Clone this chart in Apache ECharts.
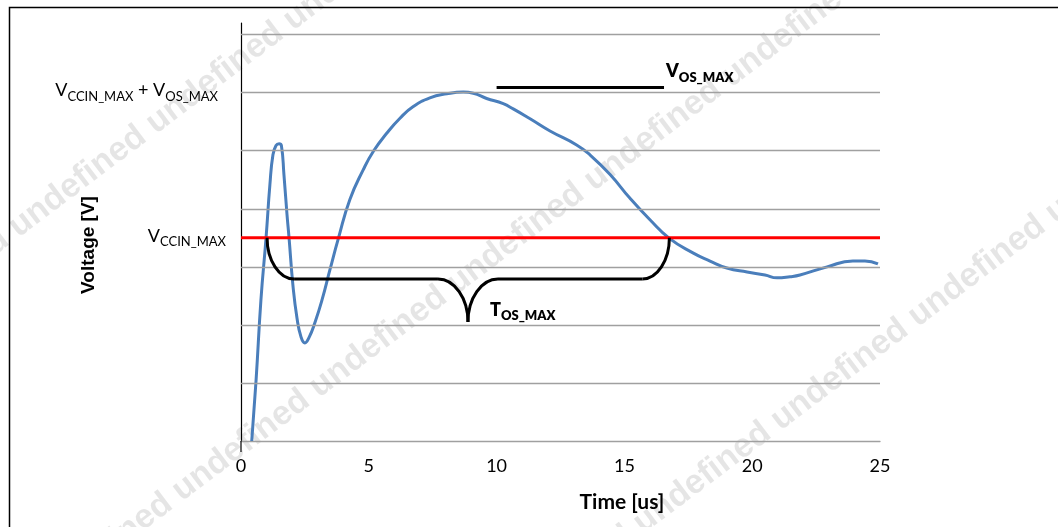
<!DOCTYPE html>
<html>
<head>
<meta charset="utf-8">
<script src="https://cdn.jsdelivr.net/npm/echarts@6/dist/echarts.min.js"></script>
<style>
html,body{margin:0;padding:0;background:#fff;}
#chart{width:1058px;height:527px;}
</style>
</head>
<body>
<div id="chart"></div>
<script>
// ---- data ----
const timeUs = [0.42,0.59,0.78,0.98,1.13,1.25,1.37,1.49,1.58,1.68,1.80,1.88,2.03,2.19,2.35,2.50,2.66,2.90,3.17,3.48,3.81,4.26,4.78,5.18,5.70,6.22,6.74,7.39,8.05,8.70,9.09,9.61,10.26,10.65,11.31,12.09,13.13,13.65,14.44,15.22,16.0,16.76,17.68,18.35,19.01,19.80,20.50,20.97,21.48,21.87,22.93,23.94,24.41,24.92];
const voltage = [0,1.05,2.43,3.5,4.41,4.93,5.09,5.12,5.09,4.59,3.90,3.5,2.69,2.12,1.79,1.69,1.78,2.05,2.43,2.95,3.49,4.16,4.67,4.99,5.30,5.56,5.76,5.91,5.98,6.01,5.99,5.90,5.81,5.72,5.55,5.34,5.10,4.93,4.59,4.18,3.81,3.49,3.24,3.10,2.98,2.91,2.86,2.81,2.83,2.86,3.0,3.10,3.10,3.05];
const xTicks = [0,5,10,15,20,25];
const gridLevels = [1,2,3,4,5,6,7];
const vccinMax = 3.5;
const vccinPlusOs = 6.0;
const vosLineX = [10, 16.55];
const vosLineY = 6.09;
const braceStartX = 1.02, braceEndX = 16.76, braceLevel = 2.79, braceTipX = 8.88, braceTipY = 2.05;
// label parts: [text, isSubscript]
const labelVccinOs = [['V', false], ['CCIN_MAX', true], [' + V', false], ['OS_MAX', true]];
const labelVccin = [['V', false], ['CCIN_MAX', true]];
const labelVos = [['V', false], ['OS_MAX', true]];
const labelTos = [['T', false], ['OS_MAX', true]];
const xName = 'Time [us]';
const yName = 'Voltage [V]';
const watermarkWord = 'undefined';

const chart = echarts.init(document.getElementById('chart'));
const option = {
  animation: false,
  grid: {left: 241, right: 178, top: 23, bottom: 86, containLabel: false},
  xAxis: {
    type: 'value', min: 0, max: 25, interval: 5,
    axisLine: {show: true, onZero: false, lineStyle: {color: '#a0a0a0', width: 1.3}},
    axisTick: {show: false},
    splitLine: {show: false},
    axisLabel: {color: '#000', fontFamily: 'Lato', fontSize: 18, margin: 16,
      formatter: v => xTicks.indexOf(v) >= 0 ? String(v) : ''}
  },
  yAxis: {
    type: 'value', min: 0, max: 7.2,
    axisLine: {show: true, lineStyle: {color: '#000', width: 1.2}},
    axisTick: {show: false}, axisLabel: {show: false}, splitLine: {show: false}
  },
  series: [
    {type: 'line', data: [], silent: true, z: 1,
     markLine: {silent: true, symbol: 'none', animation: false, label: {show: false},
       lineStyle: {color: '#a0a0a0', width: 1.3, type: 'solid'},
       data: gridLevels.map(v => ({yAxis: v}))}},
    {type: 'line', data: timeUs.map((t, i) => [t, voltage[i]]), smooth: 0.5,
     showSymbol: false, z: 3, lineStyle: {color: '#4a7ebb', width: 3}},
    {type: 'line', data: [[0, vccinMax], [25, vccinMax]], showSymbol: false, z: 4,
     lineStyle: {color: '#ff0000', width: 3}},
    {type: 'line', data: vosLineX.map(x => [x, vosLineY]), showSymbol: false, z: 4,
     lineStyle: {color: '#000', width: 3}}
  ]
};
chart.setOption(option);

const px = p => chart.convertToPixel({gridIndex: 0}, p);
const s = px([braceStartX, vccinMax]);
const e = px([braceEndX, vccinMax]);
const L = px([0, braceLevel])[1];
const tip = px([braceTipX, braceTipY]);
const k = 0.55, rx = 27, rt = 30;
const h = L - s[1], h2 = tip[1] - L;

const braceStyle = {fill: 'none', stroke: '#000', lineWidth: 3};
const bez = (x1, y1, c1x, c1y, c2x, c2y, x2, y2) => ({type: 'bezierCurve', z: 10, silent: true,
  shape: {x1: x1, y1: y1, cpx1: c1x, cpy1: c1y, cpx2: c2x, cpy2: c2y, x2: x2, y2: y2}, style: braceStyle});
const seg = (x1, y1, x2, y2) => ({type: 'line', z: 10, silent: true,
  shape: {x1: x1, y1: y1, x2: x2, y2: y2}, style: braceStyle});

const ctx = document.createElement('canvas').getContext('2d');
function subLabel(parts, x, y, alignRight, bold) {
  const w = bold ? '800 ' : '';
  const fMain = w + '18px Lato', fSub = w + '13px Lato';
  const widths = parts.map(([t, sub]) => { ctx.font = sub ? fSub : fMain; return ctx.measureText(t).width; });
  const total = widths.reduce((a, b) => a + b, 0);
  let cx = alignRight ? x - total : x;
  const out = [];
  parts.forEach(([t, sub], i) => {
    out.push({type: 'text', z: 10, silent: true, x: cx, y: sub ? y + 6 : y,
      style: {text: t, font: sub ? fSub : fMain, fill: '#000', align: 'left', verticalAlign: 'middle'}});
    cx += widths[i];
  });
  return out;
}

const p6 = px([0, vccinPlusOs]);
const p35 = px([0, vccinMax]);
const pv = px([vosLineX[1], vosLineY]);
const origin = px([0, 0]);

let elements = [];
// watermark
const ang = 37 * Math.PI / 180;
const wmStarts = [[150, 127], [588, 184], [912, 320]];
const wmFont = 'bold 34px "Liberation Sans"';
const before = Array(4).fill(watermarkWord).join(' ') + ' ';
const after = Array(5).fill(watermarkWord).join(' ');
wmStarts.forEach(p => {
  [[before, 'right'], [after, 'left']].forEach(([txt, al]) => {
    elements.push({type: 'text', x: p[0], y: p[1], rotation: ang, z: 0, silent: true,
      style: {text: txt, font: wmFont, fill: 'rgba(0,0,0,0.10)', align: al, verticalAlign: 'middle'}});
  });
});
// border
elements.push({type: 'rect', z: 10, silent: true, shape: {x: 9.5, y: 7.5, width: 1200, height: 600},
  style: {fill: 'none', stroke: '#000', lineWidth: 1.5}});
// y axis extension below x axis
elements.push({type: 'line', z: 10, silent: true, shape: {x1: origin[0], y1: origin[1], x2: origin[0], y2: origin[1] + 11},
  style: {stroke: '#000', lineWidth: 1.2}});
// brace
elements.push(bez(s[0], s[1], s[0], s[1] + k*h, s[0] + rx - k*rx, L, s[0] + rx, L));
elements.push(seg(s[0] + rx, L, tip[0] - rt, L));
elements.push(bez(tip[0] - rt, L, tip[0] - rt + k*rt, L, tip[0], tip[1] - k*h2, tip[0], tip[1]));
elements.push(bez(tip[0], tip[1], tip[0], tip[1] - k*h2, tip[0] + rt - k*rt, L, tip[0] + rt, L));
elements.push(seg(tip[0] + rt, L, e[0] - rx, L));
elements.push(bez(e[0] - rx, L, e[0] - rx + k*rx, L, e[0], s[1] + k*h, e[0], s[1]));
// labels
elements = elements.concat(subLabel(labelVccinOs, p6[0] - 23, p6[1] - 2, true, false));
elements = elements.concat(subLabel(labelVccin, p35[0] - 15, p35[1] - 2, true, false));
elements = elements.concat(subLabel(labelVos, pv[0] + 2, pv[1] - 16, false, true));
elements = elements.concat(subLabel(labelTos, tip[0] + 22, tip[1] - 12, false, true));
// axis names
elements.push({type: 'text', z: 10, x: 622, y: 502, style: {text: xName, font: 'bold 21px Lato', fill: '#000', align: 'center', verticalAlign: 'middle'}});
elements.push({type: 'text', z: 10, x: 89, y: 245, rotation: Math.PI / 2, style: {text: yName, font: 'bold 19px "Liberation Sans"', fill: '#000', align: 'center', verticalAlign: 'middle'}});

chart.setOption({graphic: {elements: elements}});
</script>
</body>
</html>
